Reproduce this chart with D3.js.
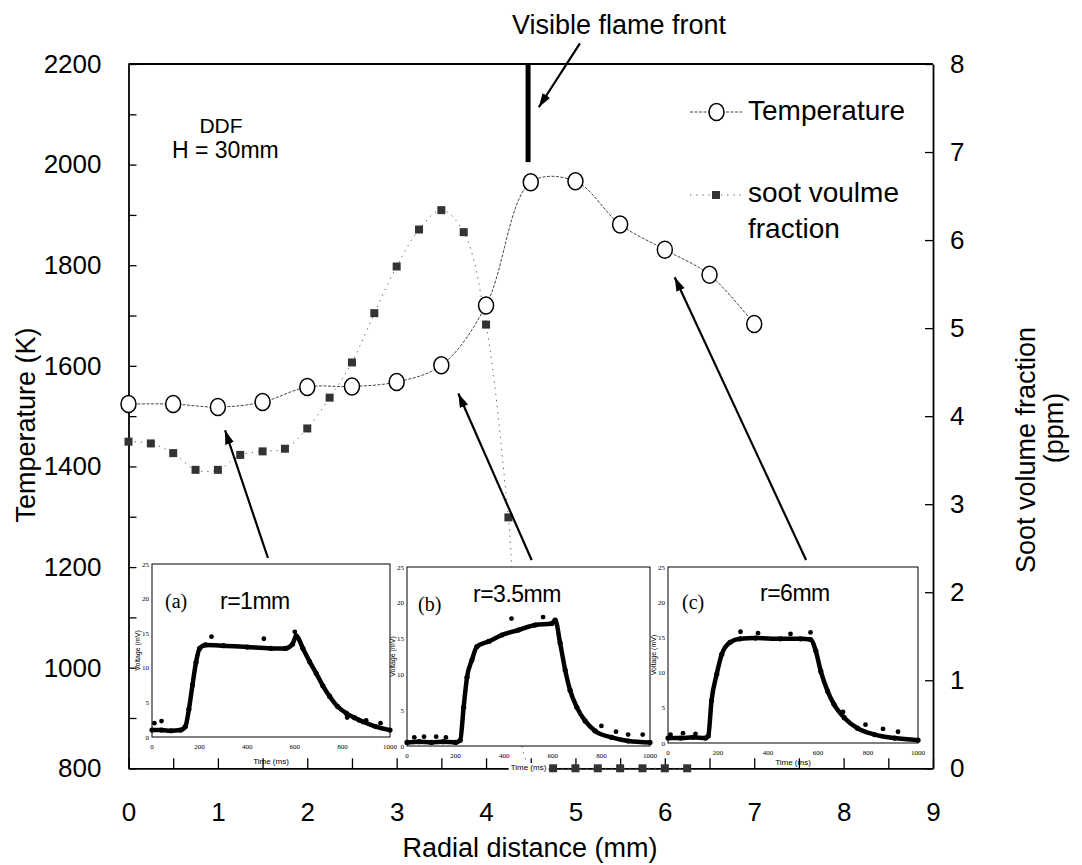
<!DOCTYPE html>
<html>
<head>
<meta charset="utf-8">
<script src="https://cdn.jsdelivr.net/npm/d3@7"></script>
<style>
  body { margin: 0; background: #fff; }
  svg { font-family: "Liberation Sans", Arial, sans-serif; }
</style>
</head>
<body>
<svg id="chart"></svg>
<script>
// Data ======>

var radial = [0, 0.5, 1, 1.5, 2, 2.5, 3, 3.5, 4, 4.5, 5, 5.5, 6, 6.5, 7]
var temperature = [1524, 1524, 1518, 1528, 1558, 1559, 1568, 1601, 1720, 1965, 1967, 1881, 1831, 1781, 1683]

var sootRadial = [0, 0.25, 0.5, 0.75, 1, 1.25, 1.5, 1.75, 2, 2.25, 2.5, 2.75, 3, 3.25, 3.5, 3.75, 4, 4.25,
                  4.5, 4.75, 5, 5.25, 5.5, 5.75, 6, 6.25]
var sootFraction = [3.71, 3.69, 3.58, 3.39, 3.39, 3.56, 3.60, 3.63, 3.86, 4.21, 4.61, 5.17, 5.70, 6.12, 6.34, 6.09, 5.04, 2.85,
                    0, 0, 0, 0, 0, 0, 0, 0]

var tempTicks = [800, 900, 1000, 1100, 1200, 1300, 1400, 1500, 1600, 1700, 1800, 1900, 2000, 2100, 2200]
var sootTicks = [0, 1, 2, 3, 4, 5, 6, 7, 8]
var radialTicks = [0, 0.5, 1, 1.5, 2, 2.5, 3, 3.5, 4, 4.5, 5, 5.5, 6, 6.5, 7, 7.5, 8, 8.5, 9]

// flame front marker (mm, K)
var flameFrontR = 4.47
var flameFrontT = [2200, 2005]

// inset signals: time (ms) and voltage (mV)
var insetTimeTicks = [0, 200, 400, 600, 800, 1000]
var insetVoltTicks = [0, 5, 10, 15, 20, 25]

var timeA = [0, 40, 80, 120, 140, 155, 170, 185, 200, 225, 300, 400, 500, 560, 590, 606, 634, 662, 690, 718, 746, 780, 817, 850, 887, 940, 1000]
var voltA = [1.0, 1.0, 0.9, 1.0, 1.5, 4.0, 7.5, 10.8, 12.8, 13.3, 13.2, 13.0, 12.8, 12.8, 13.4, 14.6, 12.8, 10.9, 9.2, 7.4, 5.9, 4.4, 3.4, 2.8, 2.2, 1.5, 1.0]
var spikeTimeA = [10, 40, 250, 470, 600, 820, 870, 900, 960]
var spikeVoltA = [2.0, 2.3, 14.5, 14.2, 15.2, 2.8, 2.4, 2.4, 2.0]

var timeB = [0, 50, 100, 150, 200, 219, 233, 247, 267, 288, 336, 390, 459, 527, 596, 610, 630, 651, 671, 699, 733, 774, 842, 911, 1000]
var voltB = [0.5, 0.6, 0.5, 0.6, 0.5, 0.8, 5.4, 9.6, 12.0, 13.9, 14.6, 15.5, 16.2, 16.9, 17.1, 17.6, 14.4, 10.6, 7.8, 5.4, 3.5, 2.1, 1.2, 0.7, 0.5]
var spikeTimeB = [30, 70, 120, 160, 430, 560, 800, 860, 910, 970]
var spikeVoltB = [1.2, 1.3, 1.3, 1.2, 17.8, 18.0, 2.8, 2.0, 1.6, 1.6]

var timeC = [0, 50, 100, 150, 161, 174, 195, 215, 248, 289, 350, 450, 530, 570, 591, 611, 638, 664, 705, 758, 826, 906, 1000]
var voltC = [0.7, 0.7, 0.8, 0.7, 1.0, 6.0, 9.8, 12.6, 14.3, 14.8, 14.9, 14.8, 14.8, 14.7, 13.1, 10.2, 7.4, 5.5, 3.6, 2.1, 1.2, 0.7, 0.4]
var spikeTimeC = [10, 60, 110, 290, 360, 490, 570, 700, 790, 860, 920]
var spikeVoltC = [1.2, 1.4, 1.3, 15.8, 15.6, 15.5, 15.7, 4.4, 2.6, 2.0, 1.6]


// Setup ======>

var svgWidth = 1082, svgHeight = 865
var plotLeft = 128.5, plotRight = 933, plotTop = 64, plotBottom = 768.3

var svg = d3.select('#chart')
    .attr('width', svgWidth)
    .attr('height', svgHeight)

var x = d3.scaleLinear().domain([0, 9]).range([plotLeft, plotRight])
var yT = d3.scaleLinear().domain([800, 2200]).range([plotBottom, plotTop])
var yS = d3.scaleLinear().domain([0, 8]).range([plotBottom, plotTop])

var defs = svg.append('defs')
defs.append('marker')
    .attr('id', 'arrow')
    .attr('markerUnits', 'userSpaceOnUse')
    .attr('markerWidth', 15)
    .attr('markerHeight', 10)
    .attr('refX', 14)
    .attr('refY', 4.5)
    .attr('orient', 'auto')
    .append('path')
    .attr('d', 'M0,0 L14,4.5 L0,9 Z')
    .attr('fill', '#000')


// Axes ======>

function styleAxis(g) {
    g.attr('font-family', '"Liberation Sans", Arial, sans-serif')
        .attr('font-size', 26)
    g.selectAll('path.domain').attr('stroke-width', 1.8)
    g.selectAll('.tick line').attr('stroke-width', 1.3)
    g.selectAll('.tick text').attr('fill', '#000')
}

svg.append('g')
    .attr('transform', 'translate(' + plotLeft + ',0)')
    .call(d3.axisLeft(yT).tickValues(tempTicks).tickSizeInner(-8).tickSizeOuter(0).tickPadding(27)
        .tickFormat(function(d) { return d % 200 === 0 ? d : '' }))
    .call(styleAxis)

svg.append('g')
    .attr('transform', 'translate(' + plotRight + ',0)')
    .call(d3.axisRight(yS).tickValues(sootTicks).tickSizeInner(-8).tickSizeOuter(0).tickPadding(17))
    .call(styleAxis)

svg.append('g')
    .attr('transform', 'translate(0,' + plotBottom + ')')
    .call(d3.axisBottom(x).tickValues(radialTicks).tickSizeInner(-10).tickSizeOuter(0).tickPadding(34)
        .tickFormat(function(d) { return Number.isInteger(d) ? d : '' }))
    .call(styleAxis)

// top frame line
svg.append('line')
    .attr('x1', plotLeft).attr('x2', plotRight)
    .attr('y1', yT(2200)).attr('y2', yT(2200))
    .attr('stroke', '#000')
    .attr('stroke-width', 1.8)

// axis titles
svg.append('text')
    .attr('transform', 'translate(35,425) rotate(-90)')
    .attr('text-anchor', 'middle')
    .attr('font-size', 27)
    .text('Temperature (K)')

svg.append('text')
    .attr('transform', 'translate(1035,450) rotate(-90)')
    .attr('text-anchor', 'middle')
    .attr('font-size', 27)
    .text('Soot volume fraction')

svg.append('text')
    .attr('transform', 'translate(1063,428) rotate(-90)')
    .attr('text-anchor', 'middle')
    .attr('font-size', 27)
    .text('(ppm)')

svg.append('text')
    .attr('x', 530)
    .attr('y', 857)
    .attr('text-anchor', 'middle')
    .attr('font-size', 27)
    .text('Radial distance (mm)')


// Lines ======>

var tempLine = d3.line()
    .x(function(d, i) { return x(radial[i]) })
    .y(function(d) { return yT(d) })
    .curve(d3.curveCatmullRom.alpha(0.5))

svg.append('path')
    .attr('d', tempLine(temperature))
    .attr('fill', 'none')
    .attr('stroke', '#444')
    .attr('stroke-width', 1)
    .attr('stroke-dasharray', '3,1.5')

var sootLine = d3.line()
    .x(function(d, i) { return x(sootRadial[i]) })
    .y(function(d) { return yS(d) })
    .curve(d3.curveCatmullRom.alpha(0.5))

svg.append('path')
    .attr('d', sootLine(sootFraction))
    .attr('fill', 'none')
    .attr('stroke', '#555')
    .attr('stroke-width', 1)
    .attr('stroke-dasharray', '1.2,5')


// Markers ======>

svg.selectAll('rect.soot')
    .data(sootFraction)
    .enter()
    .append('rect')
    .attr('class', 'soot')
    .attr('x', function(d, i) { return x(sootRadial[i]) - 4 })
    .attr('y', function(d) { return yS(d) - 4 })
    .attr('width', 8)
    .attr('height', 8)
    .attr('fill', '#333')

svg.selectAll('ellipse.temp')
    .data(temperature)
    .enter()
    .append('ellipse')
    .attr('class', 'temp')
    .attr('cx', function(d, i) { return x(radial[i]) })
    .attr('cy', function(d) { return yT(d) })
    .attr('rx', 7.5)
    .attr('ry', 8.5)
    .attr('fill', '#fff')
    .attr('stroke', '#000')
    .attr('stroke-width', 1.5)


// Insets ======>

function drawInset(box, times, volts, spikeTimes, spikeVolts, tag, radius) {
    var g = svg.append('g')
    var ix = d3.scaleLinear().domain([0, 1000]).range([box.x, box.x + box.w])
    var iy = d3.scaleLinear().domain([0, 25]).range([box.y + box.h, box.y])

    g.append('rect')
        .attr('x', box.x).attr('y', box.y)
        .attr('width', box.w).attr('height', box.h)
        .attr('fill', '#fff')
        .attr('stroke', '#000')
        .attr('stroke-width', 1)

    var line = d3.line()
        .x(function(d, i) { return ix(times[i]) })
        .y(function(d) { return iy(d) })
        .curve(d3.curveMonotoneX)

    g.append('path')
        .attr('d', line(volts))
        .attr('fill', 'none')
        .attr('stroke', '#000')
        .attr('stroke-width', 4.5)

    g.selectAll('circle.dot')
        .data(volts)
        .enter()
        .append('circle')
        .attr('cx', function(d, i) { return ix(times[i]) })
        .attr('cy', function(d) { return iy(d) })
        .attr('r', 2.6)
        .attr('fill', '#000')

    g.selectAll('circle.spike')
        .data(spikeVolts)
        .enter()
        .append('circle')
        .attr('cx', function(d, i) { return ix(spikeTimes[i]) })
        .attr('cy', function(d) { return iy(d) })
        .attr('r', 2.4)
        .attr('fill', '#000')

    g.selectAll('text.xt')
        .data(insetTimeTicks)
        .enter()
        .append('text')
        .attr('x', function(d) { return ix(d) })
        .attr('y', box.y + box.h + 12)
        .attr('text-anchor', 'middle')
        .attr('font-family', '"Liberation Serif", serif')
        .attr('font-size', 7)
        .text(function(d) { return d })

    g.selectAll('text.yt')
        .data(insetVoltTicks)
        .enter()
        .append('text')
        .attr('x', box.x - 3)
        .attr('y', function(d) { return iy(d) + 2.5 })
        .attr('text-anchor', 'end')
        .attr('font-family', '"Liberation Serif", serif')
        .attr('font-size', 7)
        .text(function(d) { return d })

    g.append('text')
        .attr('transform', 'translate(' + (box.x - 12) + ',' + (box.y + box.h / 2) + ') rotate(-90)')
        .attr('text-anchor', 'middle')
        .attr('font-size', 7)
        .text('Voltage (mV)')

    var tl = g.append('text')
        .attr('x', box.x + box.w / 2)
        .attr('y', box.y + box.h + box.labelDy)
        .attr('text-anchor', 'middle')
        .attr('font-size', 8)
        .text('Time (ms)')
    // inset (b) label sits on the main axis and hides the point beneath it
    if (box.labelBg) {
        var bb = tl.node().getBBox()
        g.insert('rect', function() { return tl.node() })
            .attr('x', bb.x - 2).attr('y', bb.y)
            .attr('width', bb.width + 4).attr('height', bb.height + 4)
            .attr('fill', '#fff')
    }

    g.append('text')
        .attr('x', box.x + tag.dx)
        .attr('y', box.y + tag.dy)
        .attr('font-family', '"Liberation Serif", serif')
        .attr('font-size', 20)
        .text(tag.text)

    g.append('text')
        .attr('x', box.x + radius.dx)
        .attr('y', box.y + radius.dy)
        .attr('font-size', 23)
        .attr('letter-spacing', -0.5)
        .text(radius.text)
}

drawInset({x: 152, y: 564, w: 238, h: 173, labelDy: 27}, timeA, voltA, spikeTimeA, spikeVoltA,
    {text: '(a)', dx: 13, dy: 44}, {text: 'r=1mm', dx: 68, dy: 45})
drawInset({x: 407, y: 567, w: 243, h: 179, labelDy: 24, labelBg: true}, timeB, voltB, spikeTimeB, spikeVoltB,
    {text: '(b)', dx: 11, dy: 44}, {text: 'r=3.5mm', dx: 66, dy: 35})
drawInset({x: 668, y: 567, w: 250, h: 176, labelDy: 22}, timeC, voltC, spikeTimeC, spikeVoltC,
    {text: '(c)', dx: 14, dy: 42}, {text: 'r=6mm', dx: 92, dy: 34})


// Annotations ======>

// flame front bar
svg.append('line')
    .attr('x1', x(flameFrontR)).attr('x2', x(flameFrontR))
    .attr('y1', yT(flameFrontT[0])).attr('y2', yT(flameFrontT[1]))
    .attr('stroke', '#000')
    .attr('stroke-width', 5)

svg.append('text')
    .attr('x', 619)
    .attr('y', 34)
    .attr('text-anchor', 'middle')
    .attr('font-size', 27)
    .text('Visible flame front')

// arrows: [tail r, tail T, head r, head T]
var arrows = [
    [5.05, 2241, 4.59, 2114],
    [1.56, 1218, 1.08, 1472],
    [4.51, 1214, 3.69, 1545],
    [7.58, 1214, 6.11, 1776]
]

svg.selectAll('line.arrow')
    .data(arrows)
    .enter()
    .append('line')
    .attr('class', 'arrow')
    .attr('x1', function(d) { return x(d[0]) })
    .attr('y1', function(d) { return yT(d[1]) })
    .attr('x2', function(d) { return x(d[2]) })
    .attr('y2', function(d) { return yT(d[3]) })
    .attr('stroke', '#000')
    .attr('stroke-width', 2.2)
    .attr('marker-end', 'url(#arrow)')

// DDF label
svg.append('text')
    .attr('x', 221).attr('y', 133)
    .attr('text-anchor', 'middle')
    .attr('font-size', 21)
    .text('DDF')

svg.append('text')
    .attr('x', 172).attr('y', 158)
    .attr('font-size', 23)
    .text('H = 30mm')


// Legend ======>

svg.append('line')
    .attr('x1', 690).attr('x2', 742)
    .attr('y1', 112).attr('y2', 112)
    .attr('stroke', '#444')
    .attr('stroke-width', 1)
    .attr('stroke-dasharray', '3,1.5')

svg.append('ellipse')
    .attr('cx', 716.5).attr('cy', 112)
    .attr('rx', 7.5).attr('ry', 8.5)
    .attr('fill', '#fff')
    .attr('stroke', '#000')
    .attr('stroke-width', 1.5)

svg.append('text')
    .attr('x', 748).attr('y', 120)
    .attr('font-size', 28)
    .text('Temperature')

svg.append('line')
    .attr('x1', 690).attr('x2', 742)
    .attr('y1', 195).attr('y2', 195)
    .attr('stroke', '#555')
    .attr('stroke-width', 1)
    .attr('stroke-dasharray', '1.2,5')

svg.append('rect')
    .attr('x', 712).attr('y', 191)
    .attr('width', 8).attr('height', 8)
    .attr('fill', '#333')

svg.append('text')
    .attr('x', 748).attr('y', 202)
    .attr('font-size', 28)
    .text('soot voulme')

svg.append('text')
    .attr('x', 748).attr('y', 238)
    .attr('font-size', 28)
    .text('fraction')
</script>
</body>
</html>
